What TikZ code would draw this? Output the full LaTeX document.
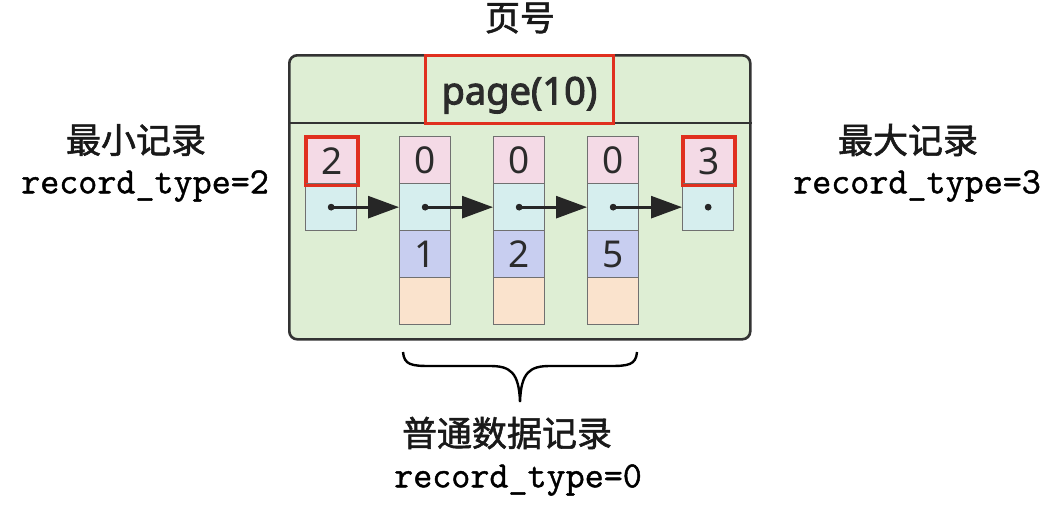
\documentclass[tikz,border=0pt]{standalone}
\usepackage{fontspec}
\newfontfamily\cjk{Noto Sans CJK SC}[FakeBold=1.6]
\newfontfamily\numfont{Noto Sans}
\newfontfamily\pagefont{Noto Sans}[FakeBold=2.6]
\newfontfamily\monofont{Latin Modern Mono}[FakeBold=1.2]
\usetikzlibrary{arrows.meta}
\definecolor{pagegreen}{HTML}{DEEED4}
\definecolor{cpink}{HTML}{F4DAE6}
\definecolor{ccyan}{HTML}{D6EEEE}
\definecolor{cblue}{HTML}{C8CEF0}
\definecolor{cpeach}{HTML}{FAE3CD}
\definecolor{cred}{HTML}{E0301F}
\definecolor{cellgray}{HTML}{707070}
\definecolor{framedark}{HTML}{333333}
\definecolor{textdark}{HTML}{2B2B2B}
\begin{document}
\begin{tikzpicture}[x=1pt,y=-1pt,
  cell/.style={draw=cellgray, line width=1.3pt, minimum width=51pt, minimum height=47pt,
    inner sep=0pt, anchor=north west, text=textdark,
    font=\numfont\fontsize{37}{37}\selectfont},
  redcell/.style={cell, draw=cred, line width=2.8pt},
  link/.style={line width=2.8pt, draw=black!85, -{Triangle[length=31pt,width=22pt]}},
  dot/.style={fill=black!85},
  cjklabel/.style={font=\cjk\fontsize{35}{38}\selectfont, text=black!90, inner sep=0pt},
  monolabel/.style={font=\monofont\fontsize{37}{40}\selectfont, text=black, inner sep=0pt}
]
\useasboundingbox[fill=white] (0,0) rectangle (1055,512);

% page frame
\node (page) [draw=framedark, line width=2.6pt, fill=pagegreen, rounded corners=8pt,
  minimum width=461pt, minimum height=284pt, anchor=north west, inner sep=0pt] at (288,54) {};
\draw[framedark, line width=2.4pt] (page.west |- 0,123) -- (page.east |- 0,123);

\node (title) [draw=cred, line width=2.8pt, minimum width=188pt, minimum height=68pt,
  anchor=north west, inner sep=0pt, text=textdark, text height=30pt, text depth=0pt,
  font=\pagefont\fontsize{38}{38}\selectfont] at (424,54) {page(10)};

% records
\node (r1a) [redcell, fill=cpink] at (305,136) {2};
\node (r1b) [cell, fill=ccyan] at (305,183) {};

\node (r2a) [cell, fill=cpink] at (399,136) {0};
\node (r2b) [cell, fill=ccyan] at (399,183) {};
\node (r2c) [cell, fill=cblue] at (399,230) {1};
\node (r2d) [cell, fill=cpeach] at (399,277) {};

\node (r3a) [cell, fill=cpink] at (493,136) {0};
\node (r3b) [cell, fill=ccyan] at (493,183) {};
\node (r3c) [cell, fill=cblue] at (493,230) {2};
\node (r3d) [cell, fill=cpeach] at (493,277) {};

\node (r4a) [cell, fill=cpink] at (587,136) {0};
\node (r4b) [cell, fill=ccyan] at (587,183) {};
\node (r4c) [cell, fill=cblue] at (587,230) {5};
\node (r4d) [cell, fill=cpeach] at (587,277) {};

\node (r5a) [redcell, fill=cpink] at (682,136) {3};
\node (r5b) [cell, fill=ccyan] at (682,183) {};
% redraw red borders on top
\draw[cred, line width=2.8pt] (r1a.north west) rectangle (r1a.south east);
\draw[cred, line width=2.8pt] (r5a.north west) rectangle (r5a.south east);

% links
\draw[link] (r1b.center) -- (r2b.west);
\draw[link] (r2b.center) -- (r3b.west);
\draw[link] (r3b.center) -- (r4b.west);
\draw[link] (r4b.center) -- (r5b.west);
\foreach \n in {r1b,r2b,r3b,r4b,r5b} \fill[dot] (\n.center) circle (3.4pt);

% labels
\node (pgno) [cjklabel] at (520,18) {页号};
\node (minl) [cjklabel] at (136,140) {最小记录};
\node (mint) [monolabel] at (145,186) {record\_type=2};
\node (maxl) [cjklabel] at (908,140) {最大记录};
\node (maxt) [monolabel] at (917,186) {record\_type=3};
\node (norl) [cjklabel] at (507,433) {普通数据记录};
\node (nort) [monolabel] at (518,480) {record\_type=0};

% brace
\draw[black, line width=2.4pt] (403,352) .. controls (404,365) and (412,366) .. (430,366)
  -- (490,366) .. controls (510,366) and (519,372) .. (520,402)
  .. controls (521,372) and (530,366) .. (550,366) -- (610,366)
  .. controls (628,366) and (636,365) .. (637,352);
\end{tikzpicture}
\end{document}
